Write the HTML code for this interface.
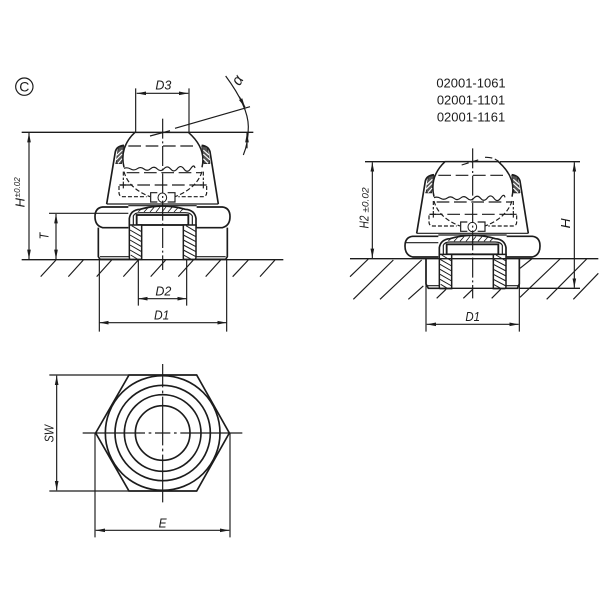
<!DOCTYPE html>
<html><head><meta charset="utf-8"><style>html,body{margin:0;padding:0;background:#fff}svg{display:block;filter:blur(.35px)}text{font-family:"Liberation Sans",sans-serif;fill:#1c1c1c}.i{font-style:italic}</style></head><body>
<svg width="600" height="600" viewBox="0 0 600 600" xmlns="http://www.w3.org/2000/svg">
<defs>
<marker id="a" markerUnits="userSpaceOnUse" markerWidth="30" markerHeight="14" refX="28" refY="7" orient="auto-start-reverse"><path d="M0,1.5 L28,7 L0,12.5Z" fill="#1c1c1c"/></marker>
<g id="top" fill="none" stroke="#1c1c1c">
<!-- ball -->
<path d="M372,322 C362,280 375,245 405,217 L565,217 C597,245 616,280 606,322" stroke-width="4.5"/>
<path d="M372,325 q10,-4 20,2 t20,-1 t20,1 t20,-1 t20,1 t20,-1 t20,1 t20,-1 t20,1 t20,-1 t13,-2" stroke-width="3.5"/>
<!-- dashed parts -->
<g stroke-width="3.5">
<path d="M385,258 H590 M380,338 H605 M360,375 H620" stroke-dasharray="38 14"/>
<path d="M372,335 Q385,385 450,410 M606,335 Q590,385 525,410" stroke-dasharray="14 7"/>
<path d="M370,335 V360 M610,335 V360 M357,378 V398 Q357,410 370,410 H440 M620,378 V398 Q620,410 607,410 H535" stroke-dasharray="12 6"/>
<path d="M370,365 V385 M358,375 H378 M610,365 V385 M600,375 H620"/>
</g>
<!-- valve -->
<path d="M472,398 H452 V426 H472 M503,398 H525 V426 H503" stroke-width="3.5"/>
<ellipse cx="487" cy="413" rx="13" ry="14" stroke-width="3"/>
<!-- body -->
<path d="M320,432 L346,275 Q350,258 372,256 M655,432 L630,275 Q625,258 605,256" stroke-width="5"/>
<path d="M320,432 H655" stroke-width="3.5"/>
<path d="M346,310 H366 M630,310 H611" stroke-width="3.5"/>
<path d="M355,262 L372,258 L365,310 L348,310Z M622,262 L605,258 L612,310 L630,310Z" fill="#555" stroke-width="2"/>
<path d="M350,286 L367,270 M348,300 L366,282 M354,310 L366,296 M628,286 L610,270 M630,300 L610,282 M624,310 L610,296" stroke="#fff" stroke-width="3.5"/>
<!-- hex -->
<path d="M385,441 H308 C290,443 285,455 285,470 C285,488 292,499 308,503 H385" stroke-width="5" fill="#fff"/>
<path d="M590,441 H667 C685,443 690,455 690,470 C690,488 683,499 667,503 H590" stroke-width="5" fill="#fff"/>
<path d="M287,460 H385" stroke-width="3.5"/>
<path d="M385,437 H590" stroke-width="3.5"/>
<!-- insert top -->
<path d="M388,505 V475 Q392,450 420,448 Q488,428 556,448 Q584,450 588,475 V505" stroke-width="5" fill="#fff"/>
<path d="M400,495 V468 Q404,458 420,458 H556 Q572,458 577,468 V495" stroke-width="3.5"/>
<path d="M415,455 L425,446 M432,456 L444,443 M450,456 L462,442 M468,456 L480,441 M486,456 L498,441 M504,456 L516,442 M522,456 L534,443 M540,456 L550,446" stroke-width="2.5"/>
<rect x="410" y="465" width="155" height="30" stroke-width="5.5" fill="#fff"/>
<!-- threads -->
<path d="M388,495 H425 V598 H390 Q388,598 388,590Z M550,495 H588 V590 Q588,598 584,598 H550Z" stroke-width="4.5" fill="#fff"/>
<path d="M390,510 L425,530 M390,525 L425,545 M390,540 L425,560 M390,555 L425,575 M390,570 L425,590 M392,585 L412,597 M395,497 L425,515 M550,510 L588,530 M550,525 L588,545 M550,540 L588,560 M550,555 L588,575 M550,570 L588,590 M550,585 L572,597 M558,497 L588,515" stroke-width="3"/>
</g>
</defs>

<!-- LEFT VIEW -->
<g transform="translate(0,60) scale(.33333)">
<use href="#top"/>
<g fill="none" stroke="#1c1c1c" stroke-width="3.5">
<path d="M295,503 V590 L300,598 H388 M682,503 V590 L677,598 H588" stroke-width="5"/>
<path d="M300,590 H388 M588,590 H677" stroke-width="3.5"/>
<path d="M65,217 H405 M565,217 H760 M65,599 H850" stroke-width="4"/>
<path d="M147,460 H288" />
<path d="M488,176 V630" stroke-dasharray="60 8 6 8"/>
<path d="M407,85 V217 M567,85 V217"/>
<path d="M415,598 V737 M560,598 V737 M298,598 V815 M680,598 V815"/>
<path d="M122,650 L168,600 M205,650 L250,600 M290,650 L335,600 M370,650 L415,600 M452,650 L497,600 M535,650 L580,600 M617,650 L662,600 M698,650 L745,600 M780,650 L825,600" />
<path d="M525,205 L750,140 M450,228 L510,212" />
<path d="M677,48 Q745,140 745,200 Q745,250 730,285"/>
<path d="M410,100 H565" marker-start="url(#a)" marker-end="url(#a)"/>
<path d="M415,716 H560" marker-start="url(#a)" marker-end="url(#a)"/>
<path d="M298,788 H680" marker-start="url(#a)" marker-end="url(#a)"/>
<path d="M87,219 V597" marker-start="url(#a)" marker-end="url(#a)"/>
<path d="M168,462 V597" marker-start="url(#a)" marker-end="url(#a)"/>
<path d="M718,110 L735,142" marker-end="url(#a)"/>
<path d="M741,265 L741,219" marker-end="url(#a)"/>
</g>
<circle cx="73" cy="80" r="26" fill="none" stroke="#1c1c1c" stroke-width="3.5"/>
<text x="73" y="95" font-size="42" text-anchor="middle">C</text>
<text class="i" x="490" y="88" font-size="39" text-anchor="middle" textLength="48" lengthAdjust="spacingAndGlyphs">D3</text>
<text class="i" x="490" y="706" font-size="39" text-anchor="middle" textLength="48" lengthAdjust="spacingAndGlyphs">D2</text>
<text class="i" x="485" y="778" font-size="39" text-anchor="middle" textLength="46" lengthAdjust="spacingAndGlyphs">D1</text>
<text class="i" transform="translate(715,62) rotate(-60)" font-size="46" text-anchor="middle" dominant-baseline="middle">α</text>
<text class="i" transform="translate(74,442) rotate(-90)" font-size="39" textLength="28" lengthAdjust="spacingAndGlyphs">H</text>
<text class="i" transform="translate(60,412) rotate(-90)" font-size="24" textLength="60" lengthAdjust="spacingAndGlyphs">±0.02</text>
<text class="i" transform="translate(146,538) rotate(-90)" font-size="39" textLength="20" lengthAdjust="spacingAndGlyphs">T</text>
</g>

<!-- RIGHT VIEW -->
<g transform="translate(340,60) scale(.33333)">
<use href="#top" transform="translate(-90,88)"/>
<g fill="none" stroke="#1c1c1c" stroke-width="3.5">
<path d="M258,594 V672 L265,685 H298 M538,594 V672 L532,685 H498" stroke-width="5"/>
<path d="M258,677 H298 M498,677 H538" />
<path d="M265,685 H535 M538,685 H720" stroke-width="4"/>
<path d="M75,305 H315 M480,305 H720 M30,596 H775" stroke-width="4"/>
<path d="M398,265 V715" stroke-dasharray="60 8 6 8"/>
<path d="M258,596 V815 M538,596 V815"/>
<path d="M30,650 L85,597 M40,718 L160,600 M120,718 L245,600 M205,718 L250,678 M540,625 L575,597 M540,712 L660,597 M620,718 L740,597 M700,718 L775,640 M290,715 L318,688 M370,715 L398,688 M455,715 L482,688"/>
<path d="M365,315 L420,298 M435,292 Q470,290 490,320" stroke-dasharray="22 8"/>
<path d="M97,307 V594" marker-start="url(#a)" marker-end="url(#a)"/>
<path d="M703,307 V683" marker-start="url(#a)" marker-end="url(#a)"/>
<path d="M260,793 H536" marker-start="url(#a)" marker-end="url(#a)"/>
</g>
<text x="393" y="82" font-size="39" text-anchor="middle">02001-1061</text>
<text x="393" y="133" font-size="39" text-anchor="middle">02001-1101</text>
<text x="393" y="184" font-size="39" text-anchor="middle">02001-1161</text>
<text class="i" x="398" y="783" font-size="39" text-anchor="middle" textLength="44" lengthAdjust="spacingAndGlyphs">D1</text>
<text class="i" transform="translate(86,505) rotate(-90)" font-size="39" textLength="38" lengthAdjust="spacingAndGlyphs">H2</text>
<text class="i" transform="translate(86,458) rotate(-90)" font-size="28" textLength="76" lengthAdjust="spacingAndGlyphs">±0.02</text>
<text class="i" transform="translate(690,505) rotate(-90)" font-size="39" textLength="30" lengthAdjust="spacingAndGlyphs">H</text>
</g>

<!-- BOTTOM VIEW -->
<g transform="translate(30,350) scale(.33333)">
<g fill="none" stroke="#1c1c1c" stroke-width="5">
<path d="M297,75 H500 L598,249 L500,423 H297 L197,249Z"/>
<circle cx="398" cy="249" r="172"/>
<circle cx="398" cy="249" r="143"/>
<circle cx="398" cy="249" r="115"/>
<circle cx="398" cy="249" r="82"/>
<g stroke-width="3.5">
<path d="M158,249 H345 M356,249 H364 M375,249 H421 M432,249 H440 M451,249 H637 M398,42 V112 M398,122 V130 M398,140 V286 M398,296 V304 M398,314 V457"/>
<path d="M58,75 H297 M58,423 H297" stroke-width="4"/>
<path d="M195,249 V562 M600,249 V562"/>
<path d="M80,77 V421" marker-start="url(#a)" marker-end="url(#a)"/>
<path d="M197,541 H598" marker-start="url(#a)" marker-end="url(#a)"/>
</g>
</g>
<text class="i" transform="translate(71,277) rotate(-90)" font-size="39" textLength="52" lengthAdjust="spacingAndGlyphs">SW</text>
<text class="i" x="398" y="532" font-size="39" text-anchor="middle" textLength="24" lengthAdjust="spacingAndGlyphs">E</text>
</g>
</svg>
</body></html>
